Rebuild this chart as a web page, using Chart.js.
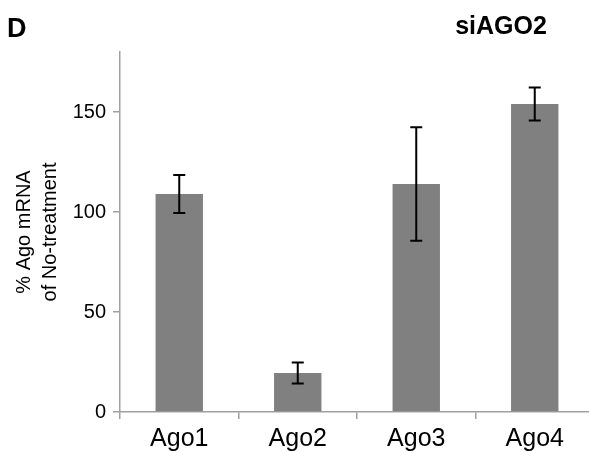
<!DOCTYPE html>
<html>
<head>
<meta charset="utf-8">
<script src="https://cdn.jsdelivr.net/npm/chart.js@4/dist/chart.umd.min.js"></script>
<style>
  html, body { margin: 0; padding: 0; background: #fff; overflow: hidden; }
  #wrap { position: relative; width: 600px; height: 452px; }
</style>
</head>
<body>
<div id="wrap"><canvas id="c" width="600" height="452"></canvas></div>
<script>
const categories = ['Ago1', 'Ago2', 'Ago3', 'Ago4'];
const values = [109, 19.5, 114, 154];
const errors = [9.5, 5.2, 28.4, 8.2];
const yTicks = [0, 50, 100, 150];
const yMax = 180;
const panelLabel = 'D';
const panelTitle = 'siAGO2';
const yTitle = ['% Ago mRNA', 'of No-treatment'];

const FONT = '"Liberation Sans", Arial, sans-serif';
const AXIS = '#a0a0a0';

const errorBars = {
  id: 'errorBars',
  afterDatasetsDraw(chart) {
    const ctx = chart.ctx;
    const meta = chart.getDatasetMeta(0);
    const y = chart.scales.y;
    ctx.save();
    ctx.strokeStyle = '#000';
    ctx.lineWidth = 2;
    meta.data.forEach((bar, i) => {
      const x = bar.x;
      const top = y.getPixelForValue(values[i] + errors[i]);
      const bot = y.getPixelForValue(values[i] - errors[i]);
      ctx.beginPath();
      ctx.moveTo(x, top); ctx.lineTo(x, bot);
      ctx.moveTo(x - 6, top); ctx.lineTo(x + 6, top);
      ctx.moveTo(x - 6, bot); ctx.lineTo(x + 6, bot);
      ctx.stroke();
    });
    ctx.restore();
  }
};

const labels = {
  id: 'labels',
  afterDraw(chart) {
    const ctx = chart.ctx;
    ctx.save();
    ctx.fillStyle = '#000';
    ctx.textBaseline = 'alphabetic';
    ctx.font = 'bold 27px ' + FONT;
    ctx.textAlign = 'left';
    ctx.fillText(panelLabel, 7, 37);
    ctx.font = 'bold 25px ' + FONT;
    ctx.textAlign = 'center';
    ctx.fillText(panelTitle, 501, 34);
    ctx.restore();
  }
};

new Chart(document.getElementById('c'), {
  type: 'bar',
  data: {
    labels: categories,
    datasets: [{
      data: values,
      backgroundColor: '#808080',
      borderWidth: 0,
      barPercentage: 0.4,
      categoryPercentage: 1.0
    }]
  },
  options: {
    responsive: false,
    animation: false,
    layout: { padding: { top: 52, right: 6, left: 0, bottom: 0 } },
    plugins: { legend: { display: false }, tooltip: { enabled: false }, title: { display: false } },
    scales: {
      x: {
        offset: true,
        grid: { display: true, drawOnChartArea: false, drawTicks: true, tickLength: 7, color: AXIS, lineWidth: 1.5, offset: true },
        border: { display: true, color: AXIS, width: 1.5 },
        ticks: { color: '#000', font: { family: FONT, size: 25 }, padding: 5, maxRotation: 0 },
        afterFit(scale) { scale.height = 40; }
      },
      y: {
        min: 0,
        max: yMax,
        grid: { display: true, drawOnChartArea: false, drawTicks: true, tickLength: 7, color: AXIS, lineWidth: 1.5 },
        border: { display: true, color: AXIS, width: 1.5 },
        ticks: { color: '#000', font: { family: FONT, size: 20 }, padding: 7, stepSize: 50 },
        afterBuildTicks(scale) { scale.ticks = yTicks.map(v => ({ value: v })); },
        title: { display: true, text: yTitle, color: '#000', font: { family: FONT, size: 20, lineHeight: 1.3 }, padding: { top: 11, bottom: 0 } },
        afterFit(scale) { scale.width = 120; }
      }
    }
  },
  plugins: [errorBars, labels]
});
</script>
</body>
</html>
